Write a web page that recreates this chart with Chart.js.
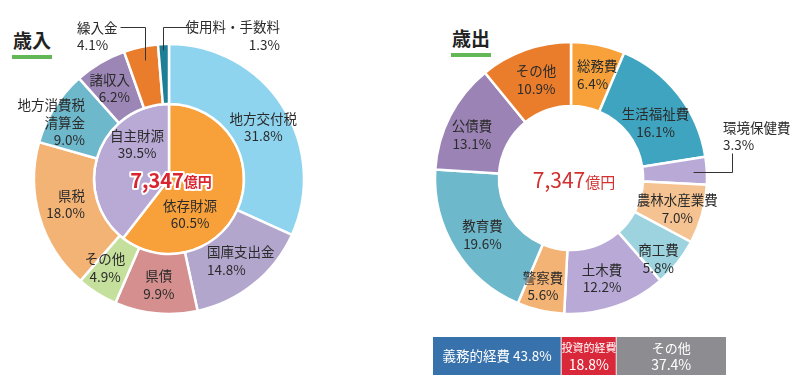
<!DOCTYPE html>
<html lang="ja">
<head>
  <meta charset="UTF-8" />
  <title>歳入・歳出</title>
  <script src="https://cdn.jsdelivr.net/npm/chart.js"></script>
  <style>
    body { margin: 0; background: #fff; font-family: "Noto Sans CJK JP", sans-serif; }
    .stage { position: relative; width: 797px; height: 386px; overflow: hidden; }
    .stage canvas { position: absolute; }
    .title { position: absolute; font-size: 19px; font-weight: bold; color: #222; line-height: 1; }
    .title::after { content: ""; position: absolute; left: -1px; right: -1px; top: 25px; height: 4px; background: #62b857; }
  </style>
</head>
<body>
  <div class="stage">
    <div class="title" style="left:13px; top:30px;">歳入</div>
    <div class="title" style="left:452px; top:28px;">歳出</div>
    <canvas id="revenue" width="400" height="360" style="left:0; top:0;"></canvas>
    <canvas id="expense" width="397" height="356" style="left:400px; top:0;"></canvas>
    <canvas id="split" width="293" height="38" style="left:433px; top:337px;"></canvas>
  </div>

<script>
// --- data ---
const revNames = ['地方交付税', '国庫支出金', '県債', 'その他', '県税', '地方消費税\n清算金', '諸収入', '繰入金', '使用料・手数料'];
const revValues = [31.8, 14.8, 9.9, 4.9, 18.0, 9.0, 6.2, 4.1, 1.3];
const revGroupNames = ['依存財源', '自主財源'];
const revGroupValues = [60.5, 39.5];

const expNames = ['総務費', '生活福祉費', '環境保健費', '農林水産業費', '商工費', '土木費', '警察費', '教育費', '公債費', 'その他'];
const expValues = [6.4, 16.1, 3.3, 7.0, 5.8, 12.2, 5.6, 19.6, 13.1, 10.9];

const splitNames = ['義務的経費', '投資的経費', 'その他'];
const splitValues = [43.8, 18.8, 37.4];

const totalText = '7,347';

// --- colours ---
const revColors = ['#8fd4ee', '#b3a6cd', '#d68f8f', '#c5df9c', '#f3b375', '#6db8cb', '#9c86b5', '#ea7d2c', '#1c7f96'];
const revGroupColors = ['#f8a13a', '#b8a9d5'];
const expColors = ['#f8a13a', '#3fa4c0', '#b8a9d6', '#f5c391', '#9dd3df', '#b8a9d6', '#f3b375', '#6db8cb', '#9b84b5', '#ea7d2c'];
const splitColors = ['#3872ad', '#d8283a', '#8d8d91'];

// label placement, offsets from each slice's centre point
const revPlace = [
  {dx: 6, dy: 5}, {dx: -28, dy: 0, align: 'left'}, {dx: 0, dy: 1.5}, {dx: -8, dy: 0},
  {dx: 16.6, dy: -4.4, align: 'right'}, {dx: 5, dy: -0.6, align: 'right'}, {dx: 14.4, dy: 0, align: 'right'},
  {dx: -70, dy: -40, align: 'left', leader: [[-27, -49.3], [-2, -49.3], [-2, -16.3]]},
  {dx: 115.3, dy: -38, align: 'right', leader: [[25.3, -47.1], [-1.7, -47.1], [-1.7, -24.1]]}
];
const revGroupPlace = [{dx: -14.5, dy: 23}, {dx: 3.5, dy: -22.4}];
const expPlace = [
  {dx: -14.8, dy: -1, align: 'left'}, {dx: 2.5, dy: 9},
  {dx: 48, dy: -36, align: 'left', leader: [[18.1, -0.4], [57.1, -0.4], [57.1, -19.4]]},
  {dx: 6, dy: 3}, {dx: 6, dy: 16}, {dx: -3, dy: 2}, {dx: -4.7, dy: 7}, {dx: 0, dy: 2.4},
  {dx: -6.5, dy: 4.5}, {dx: 0, dy: 0}
];

Chart.defaults.font.family = '"Noto Sans CJK JP", "Noto Sans", sans-serif';

function pct(v) { return v.toFixed(1) + '%'; }

function linesFor(names, values) {
  return names.map((n, i) => n.split('\n').concat([pct(values[i])]));
}

// draws text blocks next to each arc, positioned from the arc's own centre point
const sliceLabels = {
  id: 'sliceLabels',
  afterDatasetsDraw(chart, args, opts) {
    const ctx = chart.ctx;
    ctx.save();
    ctx.font = '13.5px ' + Chart.defaults.font.family;
    ctx.textBaseline = 'middle';
    (opts.sets || []).forEach(set => {
      const meta = chart.getDatasetMeta(set.dataset);
      set.lines.forEach((lines, i) => {
        const c = meta.data[i].getCenterPoint();
        const p = set.place[i];
        const x = c.x + p.dx, y = c.y + p.dy;
        if (p.leader) {
          ctx.strokeStyle = '#333';
          ctx.lineWidth = 1;
          ctx.beginPath();
          p.leader.forEach((pt, k) => {
            const px = Math.round(c.x + pt[0]) + 0.5, py = Math.round(c.y + pt[1]) + 0.5;
            if (k === 0) ctx.moveTo(px, py); else ctx.lineTo(px, py);
          });
          ctx.stroke();
        }
        ctx.fillStyle = '#2b2b2b';
        ctx.textAlign = p.align || 'center';
        const lh = 17.5;
        lines.forEach((t, k) => {
          ctx.fillText(t, x, y + (k - (lines.length - 1) / 2) * lh);
        });
      });
    });
    // total in the middle
    const cx = (chart.chartArea.left + chart.chartArea.right) / 2;
    const cy = (chart.chartArea.top + chart.chartArea.bottom) / 2;
    const t = opts.total;
    ctx.textAlign = 'left';
    ctx.font = t.weight + ' ' + t.big + 'px ' + Chart.defaults.font.family;
    const w1 = ctx.measureText(totalText).width;
    ctx.font = t.weight + ' ' + t.small + 'px ' + Chart.defaults.font.family;
    const w2 = ctx.measureText('億円').width;
    let x0 = cx + t.dx - (w1 + w2) / 2;
    const parts = [[totalText, t.big, 0], ['億円', t.small, 2]];
    parts.forEach(([s, size, off]) => {
      ctx.font = t.weight + ' ' + size + 'px ' + Chart.defaults.font.family;
      if (t.halo) {
        ctx.strokeStyle = '#fff';
        ctx.lineWidth = 4;
        ctx.lineJoin = 'round';
        ctx.strokeText(s, x0, cy + t.dy + off);
      }
      ctx.fillStyle = t.color;
      ctx.fillText(s, x0, cy + t.dy + off);
      x0 += ctx.measureText(s).width;
    });
    ctx.restore();
  }
};

const baseOpts = {
  responsive: false,
  animation: false,
  events: [],
  plugins: { legend: { display: false }, tooltip: { enabled: false } }
};

new Chart(document.getElementById('revenue'), {
  type: 'doughnut',
  data: {
    labels: revNames,
    datasets: [
      { data: revValues, backgroundColor: revColors, borderColor: '#fff', borderWidth: 2.5, weight: 60 },
      { data: revGroupValues, backgroundColor: revGroupColors, borderColor: '#fff', borderWidth: 2.5, weight: 75 }
    ]
  },
  options: Object.assign({}, baseOpts, {
    cutout: 0,
    radius: 135,
    layout: { padding: { left: 0, right: 62, top: 0, bottom: 2 } },
    plugins: Object.assign({}, baseOpts.plugins, {
      sliceLabels: {
        sets: [
          { dataset: 0, lines: linesFor(revNames, revValues), place: revPlace },
          { dataset: 1, lines: linesFor(revGroupNames, revGroupValues), place: revGroupPlace }
        ],
        total: { big: 20, small: 14, weight: 'bold', color: '#d92530', dx: 2, dy: 1, halo: true }
      }
    })
  }),
  plugins: [sliceLabels]
});

new Chart(document.getElementById('expense'), {
  type: 'doughnut',
  data: {
    labels: expNames,
    datasets: [
      { data: expValues, backgroundColor: expColors, borderColor: '#fff', borderWidth: 2.5 }
    ]
  },
  options: Object.assign({}, baseOpts, {
    cutout: '53%',
    radius: 136,
    layout: { padding: { left: 0, right: 55, top: 0, bottom: 0 } },
    plugins: Object.assign({}, baseOpts.plugins, {
      sliceLabels: {
        sets: [ { dataset: 0, lines: linesFor(expNames, expValues), place: expPlace } ],
        total: { big: 21, small: 15, weight: 'normal', color: '#d42f2f', dx: 3, dy: 2, halo: false }
      }
    })
  }),
  plugins: [sliceLabels]
});

// bottom split bar
const barText = {
  id: 'barText',
  afterDatasetsDraw(chart) {
    const ctx = chart.ctx;
    ctx.save();
    ctx.fillStyle = '#fff';
    ctx.textAlign = 'center';
    ctx.textBaseline = 'middle';
    const fam = Chart.defaults.font.family;
    chart.data.datasets.forEach((ds, i) => {
      const bar = chart.getDatasetMeta(i).data[0];
      const x = (bar.x + bar.base) / 2, y = bar.y;
      if (i === 0) {
        ctx.font = '13.5px ' + fam;
        ctx.fillText(splitNames[i] + ' ' + pct(splitValues[i]), x, y);
      } else {
        ctx.font = (i === 1 ? '11px ' : '13px ') + fam;
        ctx.fillText(splitNames[i], x, y - 8);
        ctx.font = '14px ' + fam;
        ctx.fillText(pct(splitValues[i]), x, y + 9);
      }
    });
    ctx.restore();
  }
};

new Chart(document.getElementById('split'), {
  type: 'bar',
  data: {
    labels: [''],
    datasets: splitNames.map((n, i) => ({
      label: n,
      data: [splitValues[i]],
      backgroundColor: splitColors[i],
      borderColor: '#fff',
      borderWidth: { left: 0, right: i < 2 ? 1 : 0, top: 0, bottom: 0 },
      borderSkipped: false,
      barPercentage: 1,
      categoryPercentage: 1
    }))
  },
  options: Object.assign({}, baseOpts, {
    indexAxis: 'y',
    layout: { padding: 0 },
    scales: {
      x: { stacked: true, display: false, min: 0, max: 100 },
      y: { stacked: true, display: false }
    }
  }),
  plugins: [barText]
});
</script>
</body>
</html>
